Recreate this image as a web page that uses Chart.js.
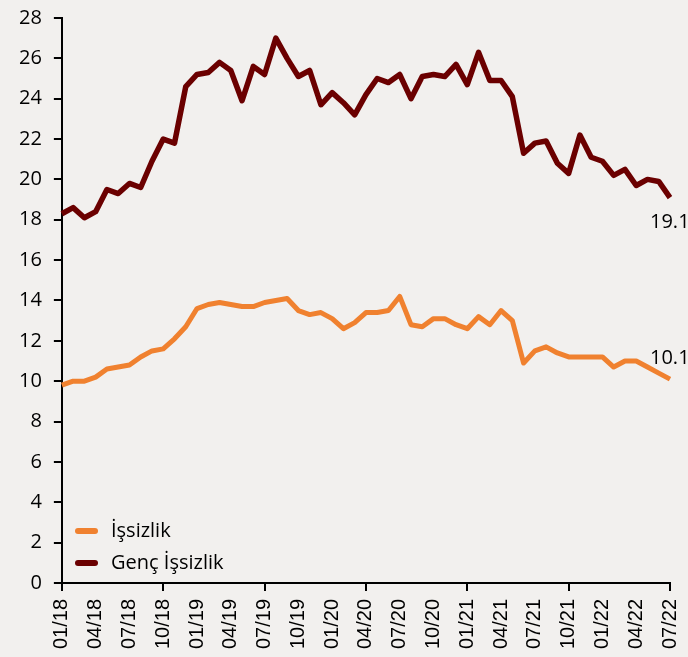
<!DOCTYPE html>
<html>
<head>
<meta charset="utf-8">
<script src="https://cdn.jsdelivr.net/npm/chart.js@4.4.0/dist/chart.umd.min.js"></script>
<style>
  html, body { margin: 0; padding: 0; background: #f2f0ee; }
  #wrap { width: 688px; height: 657px; }
</style>
</head>
<body>
<div id="wrap"><canvas id="chart" width="688" height="657"></canvas></div>
<script>
const months = [
  '01/18', '02/18', '03/18', '04/18', '05/18', '06/18', '07/18', '08/18', '09/18', '10/18', '11/18', '12/18',
  '01/19', '02/19', '03/19', '04/19', '05/19', '06/19', '07/19', '08/19', '09/19', '10/19', '11/19', '12/19',
  '01/20', '02/20', '03/20', '04/20', '05/20', '06/20', '07/20', '08/20', '09/20', '10/20', '11/20', '12/20',
  '01/21', '02/21', '03/21', '04/21', '05/21', '06/21', '07/21', '08/21', '09/21', '10/21', '11/21', '12/21',
  '01/22', '02/22', '03/22', '04/22', '05/22', '06/22', '07/22'
];

// İşsizlik (%)
const unemployment = [
  9.8, 10.0, 10.0, 10.2, 10.6, 10.7, 10.8, 11.2, 11.5, 11.6,
  12.1, 12.7, 13.6, 13.8, 13.9, 13.8, 13.7, 13.7, 13.9, 14.0,
  14.1, 13.5, 13.3, 13.4, 13.1, 12.6, 12.9, 13.4, 13.4, 13.5,
  14.2, 12.8, 12.7, 13.1, 13.1, 12.8, 12.6, 13.2, 12.8, 13.5,
  13.0, 10.9, 11.5, 11.7, 11.4, 11.2, 11.2, 11.2, 11.2, 10.7,
  11.0, 11.0, 10.7, 10.4, 10.1
];

// Genç İşsizlik (%)
const youthUnemployment = [
  18.3, 18.6, 18.1, 18.4, 19.5, 19.3, 19.8, 19.6, 20.9, 22.0,
  21.8, 24.6, 25.2, 25.3, 25.8, 25.4, 23.9, 25.6, 25.2, 27.0,
  26.0, 25.1, 25.4, 23.7, 24.3, 23.8, 23.2, 24.2, 25.0, 24.8,
  25.2, 24.0, 25.1, 25.2, 25.1, 25.7, 24.7, 26.3, 24.9, 24.9,
  24.1, 21.3, 21.8, 21.9, 20.8, 20.3, 22.2, 21.1, 20.9, 20.2,
  20.5, 19.7, 20.0, 19.9, 19.1
];

const ORANGE = '#f0812f';
const DARK = '#6b0000';
const humanist = '"Open Sans", "Noto Sans", sans-serif';

// legend drawn inside the plot, bottom left
const insideLegend = {
  id: 'insideLegend',
  afterDraw(c) {
    const ctx = c.ctx;
    const rows = [
      { text: 'İşsizlik', color: ORANGE, y: 531 },
      { text: 'Genç İşsizlik', color: DARK, y: 563 },
    ];
    ctx.save();
    rows.forEach(r => {
      ctx.strokeStyle = r.color;
      ctx.lineWidth = 6;
      ctx.lineCap = 'round';
      ctx.beginPath();
      ctx.moveTo(78, r.y);
      ctx.lineTo(95, r.y);
      ctx.stroke();
      ctx.fillStyle = '#000';
      ctx.font = '20px ' + humanist;
      ctx.textBaseline = 'middle';
      ctx.textAlign = 'left';
      ctx.fillText(r.text, 111, r.y);
    });
    ctx.restore();
  }
};

// last value label next to each line end
const endLabels = {
  id: 'endLabels',
  afterDatasetsDraw(c) {
    const ctx = c.ctx;
    ctx.save();
    ctx.font = '20px ' + humanist;
    ctx.fillStyle = '#000';
    ctx.textAlign = 'left';
    ctx.textBaseline = 'alphabetic';
    c.data.datasets.forEach((ds, i) => {
      const meta = c.getDatasetMeta(i);
      const pt = meta.data[meta.data.length - 1];
      const v = ds.data[ds.data.length - 1];
      const dy = i === 1 ? 30 : -15;
      ctx.fillText(v.toFixed(1), pt.x - 20, pt.y + dy);
    });
    ctx.restore();
  }
};

// let layout.padding alone decide where the plot area sits
const noScalePadding = (scale) => {
  scale.paddingLeft = 0;
  scale.paddingRight = 0;
  scale.paddingTop = 0;
  scale.paddingBottom = 0;
};

new Chart(document.getElementById('chart'), {
  type: 'line',
  data: {
    labels: months,
    datasets: [
      {
        label: 'İşsizlik',
        data: unemployment,
        borderColor: ORANGE,
        backgroundColor: ORANGE,
        borderWidth: 5,
        pointRadius: 0,
        tension: 0,
        borderJoinStyle: 'round',
      },
      {
        label: 'Genç İşsizlik',
        data: youthUnemployment,
        borderColor: DARK,
        backgroundColor: DARK,
        borderWidth: 5.5,
        pointRadius: 0,
        tension: 0,
        borderJoinStyle: 'round',
      },
    ],
  },
  options: {
    responsive: false,
    animation: false,
    layout: {
      padding: { top: 18, right: 18, bottom: 0, left: 7 },
    },
    scales: {
      x: {
        offset: false,
        afterFit: noScalePadding,
        grid: {
          drawOnChartArea: false,
          tickLength: 8,
          lineWidth: 2,
          color: (ctx) => (ctx.index % 3 === 0 ? '#000' : 'rgba(0,0,0,0)'),
        },
        border: { display: true, color: '#000', width: 2 },
        ticks: {
          autoSkip: false,
          minRotation: 90,
          maxRotation: 90,
          padding: 8,
          color: '#000',
          font: { family: '"Liberation Sans", Arial, sans-serif', size: 20 },
          callback: (v, i) => (i % 3 === 0 ? months[i] : null),
        },
      },
      y: {
        min: 0,
        max: 28,
        afterFit: noScalePadding,
        grid: {
          drawOnChartArea: false,
          tickLength: 8,
          lineWidth: 2,
          color: '#000',
        },
        border: { display: true, color: '#000', width: 2 },
        ticks: {
          stepSize: 2,
          padding: 12,
          color: '#000',
          font: { family: humanist, size: 20 },
        },
      },
    },
    plugins: {
      legend: { display: false },
      tooltip: { enabled: false },
    },
  },
  plugins: [insideLegend, endLabels],
});
</script>
</body>
</html>
